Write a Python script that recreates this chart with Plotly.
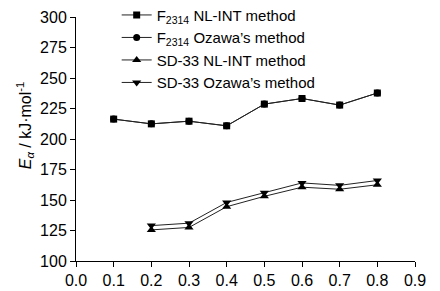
import plotly.graph_objects as go

alpha = [0.1, 0.2, 0.3, 0.4, 0.5, 0.6, 0.7, 0.8]
f2314_nlint = [216.3, 212.4, 214.6, 210.8, 228.6, 233.2, 227.8, 237.7]
f2314_ozawa = [216.3, 212.4, 214.6, 210.8, 228.6, 233.2, 227.8, 237.7]
alpha_sd = [0.2, 0.3, 0.4, 0.5, 0.6, 0.7, 0.8]
sd33_nlint = [125.5, 127.5, 144.5, 153.0, 160.5, 158.8, 162.5]
sd33_ozawa = [129.0, 131.0, 148.0, 156.0, 164.0, 162.0, 166.0]

x_ticks = [0.0, 0.1, 0.2, 0.3, 0.4, 0.5, 0.6, 0.7, 0.8, 0.9]
y_ticks = [100, 125, 150, 175, 200, 225, 250, 275, 300]

font = "Liberation Sans, Arial, sans-serif"

fig = go.Figure()
series = [
    (alpha, f2314_nlint, "F<sub>2314</sub> NL-INT method", "square", 7),
    (alpha, f2314_ozawa, "F<sub>2314</sub> Ozawa’s method", "circle", 7),
    (alpha_sd, sd33_nlint, "SD-33 NL-INT method", "triangle-up", 8),
    (alpha_sd, sd33_ozawa, "SD-33 Ozawa’s method", "triangle-down", 8),
]
for xs, ys, name, sym, sz in series:
    fig.add_trace(go.Scatter(
        x=xs, y=ys, name=name, mode="lines+markers",
        line=dict(color="#222222", width=1),
        marker=dict(symbol=sym, size=sz, color="black"),
    ))

fig.update_layout(
    width=432, height=283,
    margin=dict(l=68, r=25, t=9, b=30, autoexpand=False),
    paper_bgcolor="white", plot_bgcolor="white",
    font=dict(family=font, size=16, color="black"),
    showlegend=True,
    legend=dict(x=0.12, y=1.075, xanchor="left", yanchor="top",
                bgcolor="rgba(0,0,0,0)", font=dict(size=15),
                tracegroupgap=0, itemwidth=30),
    xaxis=dict(range=[0, 0.9], tickvals=x_ticks,
               ticktext=[f"{v:.1f}" for v in x_ticks],
               showline=True, linecolor="black", linewidth=1,
               ticks="outside", ticklen=5, tickcolor="black",
               showgrid=False, zeroline=False, automargin=False),
    yaxis=dict(range=[100, 300], tickvals=y_ticks,
               showline=True, linecolor="black", linewidth=1,
               ticks="outside", ticklen=5, tickcolor="black",
               showgrid=False, zeroline=False, automargin=False),
    annotations=[
        dict(text="<i>E<sub>α</sub></i> / kJ·mol<sup>-1</sup>",
             xref="paper", yref="paper", x=-0.150, y=0.553,
             xanchor="center", yanchor="middle", textangle=-90,
             showarrow=False, font=dict(size=16)),
        dict(text="<i>α</i>", xref="paper", yref="paper", x=0.493, y=-0.111,
             xanchor="center", yanchor="top", showarrow=False,
             font=dict(size=16)),
    ],
)

fig.write_html("out.html")
